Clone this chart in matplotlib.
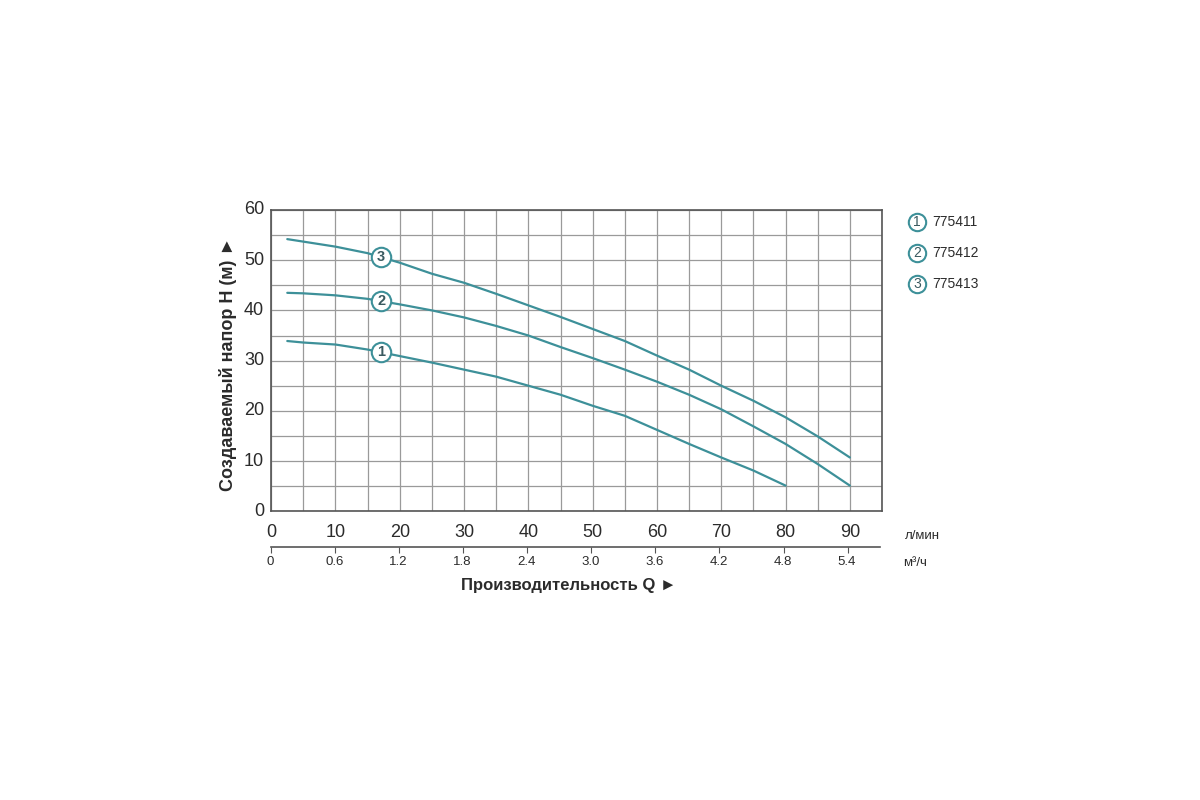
import matplotlib
matplotlib.use("Agg")
import matplotlib.pyplot as plt
import numpy as np

plt.rcParams['font.family'] = ['Liberation Sans', 'DejaVu Sans']

# Data
q = [2.5, 5, 10, 15, 20, 25, 30, 35, 40, 45, 50, 55, 60, 65, 70, 75, 80, 85, 90]
h1 = [33.9, 33.6, 33.2, 32.2, 30.9, 29.6, 28.2, 26.8, 25.0, 23.2, 21.0, 19.0,
      16.2, 13.4, 10.7, 8.1, 5.1]
h2 = [43.5, 43.4, 43.0, 42.3, 41.2, 40.0, 38.6, 36.9, 35.0, 32.7, 30.5, 28.2,
      25.8, 23.2, 20.3, 16.9, 13.4, 9.4, 5.1]
h3 = [54.2, 53.7, 52.7, 51.4, 49.5, 47.3, 45.5, 43.3, 41.0, 38.7, 36.3, 33.9,
      31.0, 28.2, 25.0, 22.0, 18.7, 14.9, 10.7]
series = [(q[:len(h1)], h1, '1'), (q, h2, '2'), (q, h3, '3')]
legend_labels = ['775411', '775412', '775413']
marker_q = 17.1
lpm_ticks = [0, 10, 20, 30, 40, 50, 60, 70, 80, 90]
m3h_labels = ['0', '0.6', '1.2', '1.8', '2.4', '3.0', '3.6', '4.2', '4.8', '5.4']
y_ticks = [0, 10, 20, 30, 40, 50, 60]

teal = '#3d9099'
numc = '#3a5a60'
textc = '#2b2b2b'
gridc = '#9a9a9a'

fig = plt.figure(figsize=(12, 8), dpi=100)
ax = fig.add_axes([0.226, 0.361, 0.509, 0.3765])
ax.set_xlim(0, 95)
ax.set_ylim(0, 60)
ax.set_xticks(np.arange(0, 95.1, 5))
ax.set_yticks(np.arange(0, 60.1, 5))
ax.grid(True, color=gridc, linewidth=0.9)
ax.set_axisbelow(True)
ax.tick_params(length=0, labelbottom=False, labelleft=False)
for s in ax.spines.values():
    s.set_color('#555555')
    s.set_linewidth(1.2)

for qq, h, lab in series:
    ax.plot(qq, h, color=teal, linewidth=1.6, solid_capstyle='round',
            solid_joinstyle='round', zorder=3)
    ym = np.interp(marker_q, qq, h)
    ax.plot(marker_q, ym, 'o', markersize=14, markerfacecolor='white',
            markeredgecolor=teal, markeredgewidth=1.5, zorder=4)
    ax.text(marker_q, ym, lab, ha='center', va='center', fontsize=10.5,
            fontweight='bold', color=numc, zorder=5)

# Y tick labels
for y in y_ticks:
    ax.text(-1.1, y, str(y), ha='right', va='center', fontsize=13, color=textc)
# L/min labels
for x in lpm_ticks:
    ax.text(x, -4.2, str(x), ha='center', va='center', fontsize=13, color=textc)
ax.text(98.6, -4.9, 'л/мин', ha='left', va='center', fontsize=9.5, color=textc,
        clip_on=False)

# Second axis (m3/h)
ax2 = fig.add_axes([0.226, 0.316, 0.507, 0.0001])
ax2.set_xlim(0, 95)
ax2.set_yticks([])
for sp in ['left', 'right', 'bottom']:
    ax2.spines[sp].set_visible(False)
ax2.spines['top'].set_color('#555555')
ax2.spines['top'].set_linewidth(1.2)
ax2.patch.set_alpha(0)
ax2.set_xticks(lpm_ticks)
ax2.set_xticklabels([])
ax2.tick_params(axis='x', direction='in', length=4, color='#555555', top=True,
                bottom=False)
for x, lab in zip(lpm_ticks, m3h_labels):
    fig.text(0.226 + 0.507 * x / 95 - 0.0008, 0.298, lab, ha='center', va='center',
             fontsize=9.5, color=textc)
fig.text(0.753, 0.296, 'м³/ч', ha='left', va='center', fontsize=9.5, color=textc)

# Axis titles
fig.text(0.474, 0.268, 'Производительность Q ►', ha='center', va='center',
         fontsize=12, fontweight='bold', color=textc)
fig.text(0.19, 0.545, 'Создаваемый напор H (м) ►', ha='center', va='center',
         rotation=90, fontsize=13, fontweight='bold', color=textc)

# Legend
for i, (lab, num) in enumerate(zip(legend_labels, ['1', '2', '3'])):
    yy = 1 - (222 + i * 31) / 800
    fig.lines.append(plt.Line2D([917 / 1200], [yy], marker='o', markersize=12.5,
                                markerfacecolor='white', markeredgecolor=teal,
                                markeredgewidth=1.5, transform=fig.transFigure))
    fig.text(917 / 1200, yy, num, ha='center', va='center', fontsize=10,
             color=numc)
    fig.text(932 / 1200, yy, lab, ha='left', va='center', fontsize=10, color=textc)

fig.savefig('out.png', dpi=100, facecolor='white')
